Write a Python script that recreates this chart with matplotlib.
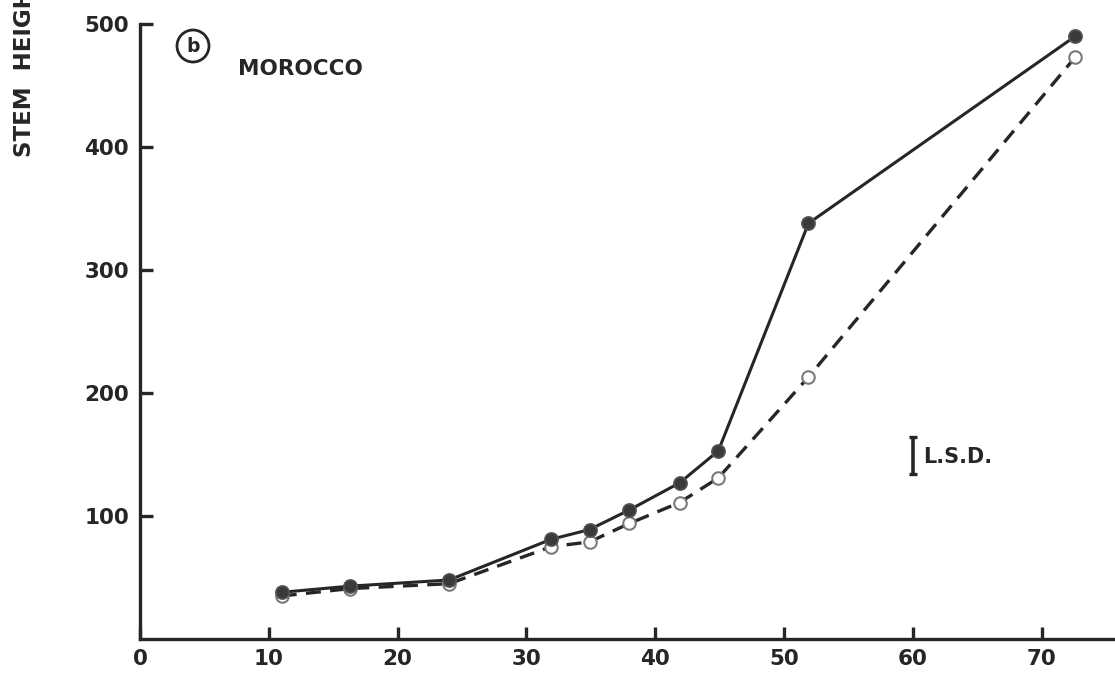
import matplotlib
matplotlib.use("Agg")
import matplotlib.pyplot as plt
from matplotlib.patches import Circle

# Stem height over time, Morocco
days = [11, 16.3, 24, 31.9, 34.9, 38.0, 41.9, 44.9, 51.9, 72.6]
height_filled = [38, 43, 48, 81, 89, 105, 127, 153, 338, 490]
height_open = [35, 41, 45, 75, 79, 94, 111, 131, 213, 473]
x_ticks = [0, 10, 20, 30, 40, 50, 60, 70]
y_ticks = [100, 200, 300, 400, 500]
lsd_x = 60
lsd_center = 149
lsd_value = 30

plt.rcParams['font.family'] = ['DejaVu Sans']
plt.rcParams['font.weight'] = 'bold'

ink = '#262626'
fig = plt.figure(figsize=(11.15, 6.75), dpi=100)
ax = fig.add_axes([0.1256, 0.0533, 0.8744, 0.911])

ax.plot(days, height_open, linestyle=(0, (4.5, 2.8)), color=ink, lw=2.4,
        marker='o', ms=9, mfc='white', mec='#7a7a7a', mew=1.5, clip_on=False, zorder=3)
ax.plot(days, height_filled, linestyle='-', color=ink, lw=2.2,
        marker='o', ms=9.5, mfc='#3a3a3a', mec='#555555', mew=1.2, clip_on=False, zorder=4)

ax.set_xlim(0, 75.7)
ax.set_ylim(0, 500)

for s in ['top', 'right']:
    ax.spines[s].set_visible(False)
for s in ['left', 'bottom']:
    ax.spines[s].set_linewidth(2.4)
    ax.spines[s].set_color(ink)

ax.set_xticks(x_ticks)
ax.set_xticklabels([str(t) for t in x_ticks])
ax.set_yticks(y_ticks)
ax.set_yticklabels([str(t) for t in y_ticks])
ax.tick_params(axis='both', direction='in', length=9, width=2.4, color=ink,
               labelsize=15.5, labelcolor=ink)
ax.tick_params(axis='x', pad=7)
ax.tick_params(axis='y', pad=8)
for lab in ax.get_xticklabels() + ax.get_yticklabels():
    lab.set_fontweight('bold')

# LSD bar
ax.errorbar([lsd_x], [lsd_center], yerr=[[lsd_value / 2], [lsd_value / 2]],
            fmt='none', ecolor=ink, elinewidth=2.6, capsize=3, capthick=2.4)
ax.text(lsd_x + 0.8, lsd_center - 1, 'L.S.D.', fontsize=15, fontweight='bold',
        color=ink, va='center', ha='left')

# Panel label and site name
fig.text(238 / 1115, 1 - 69 / 675, 'MOROCCO', fontsize=15.5,
         fontweight='bold', color=ink, va='center', ha='left')
fig.text(193 / 1115, 1 - 46 / 675, 'b', fontsize=13.5, fontweight='bold',
         color=ink, va='center', ha='center')
fig.add_artist(Circle((193, 675 - 46), 16, transform=None, fill=False,
                      lw=2, ec=ink))

# Y axis title (runs off the top edge)
fig.text(25 / 1115, 1 - 157 / 675, 'STEM  HEIGHT  (mm)', rotation=90,
         fontsize=16.5, fontweight='bold', color=ink, va='bottom', ha='center')

fig.savefig('out.png', dpi=100)
